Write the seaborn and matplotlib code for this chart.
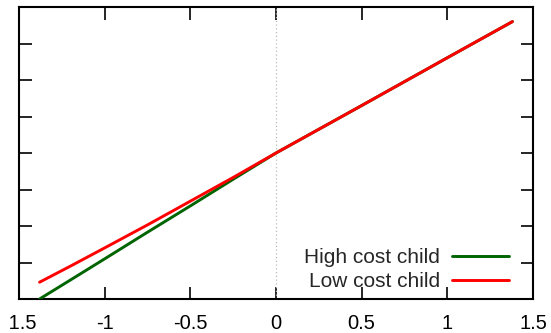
import numpy as np
import pandas as pd
import matplotlib
matplotlib.use('Agg')
import matplotlib.pyplot as plt
from matplotlib.transforms import Bbox
from matplotlib.lines import Line2D
import seaborn as sns

# Valores (eixo y sem rótulos visíveis, em unidades de marca)
x_vals = [-1.38, -1.2, -1.0, -0.75, -0.5, -0.25, 0.0, 0.5, 1.0, 1.38]
high_cost = [0.0, 0.52, 1.1, 1.83, 2.55, 3.28, 4.0, 5.3, 6.61, 7.6]
low_cost = [0.46, 0.9, 1.4, 2.03, 2.68, 3.33, 4.0, 5.3, 6.61, 7.6]
series_names = ['High cost child', 'Low cost child']
x_ticks = [-1.5, -1, -0.5, 0, 0.5, 1, 1.5]
x_tick_labels = ['-1.5', '-1', '-0.5', '0', '0.5', '1', '1.5']
y_ticks = list(range(0, 9))

df = pd.DataFrame({
    'x': x_vals * 2,
    'y': high_cost + low_cost,
    'serie': [series_names[0]] * len(x_vals) + [series_names[1]] * len(x_vals),
})

sns.set_style('ticks')
plt.rcParams['font.family'] = ['Liberation Sans', 'DejaVu Sans']

cores = {series_names[0]: '#006400', series_names[1]: '#ff0000'}

fig = plt.figure(figsize=(5.51, 3.33), dpi=100)
ax = fig.add_axes([19 / 551, 34 / 333, 514 / 551, 292 / 333])

ax.axvline(0, color='#bbbbbb', lw=0.9, ls=(0, (1, 2)), zorder=1)
sns.lineplot(data=df, x='x', y='y', hue='serie', palette=cores,
             lw=2.1, ax=ax, legend=False, zorder=3)

ax.set_xlim(-1.5, 1.5)
ax.set_ylim(0, 8)
ax.set_xticks(x_ticks)
ax.set_xticklabels(x_tick_labels)
ax.set_yticks(y_ticks)
ax.set_yticklabels([])
ax.set_xlabel('')
ax.set_ylabel('')
ax.tick_params(direction='in', length=9, width=1.2, top=True, right=True,
               labelsize=14.5, pad=11, colors='black')
for s in ax.spines.values():
    s.set_linewidth(1.5)
    s.set_color('black')

# a figura original está cortada à esquerda: recorta o primeiro rótulo
fig.canvas.draw()
clip = Bbox.from_extents(9.5, 0, 551, 333)
ax.get_xticklabels()[0].set_clip_box(clip)
ax.get_xticklabels()[0].set_clip_on(True)

handles = [Line2D([], [], color=cores[n], lw=2.1) for n in series_names]
ax.legend(handles, series_names, loc='lower right', frameon=False,
          markerfirst=False, fontsize=15, handlelength=2.7,
          handletextpad=0.6, labelspacing=0.27,
          bbox_to_anchor=(0.977, -0.017), borderaxespad=0.2)

fig.savefig('out.png', dpi=100)
